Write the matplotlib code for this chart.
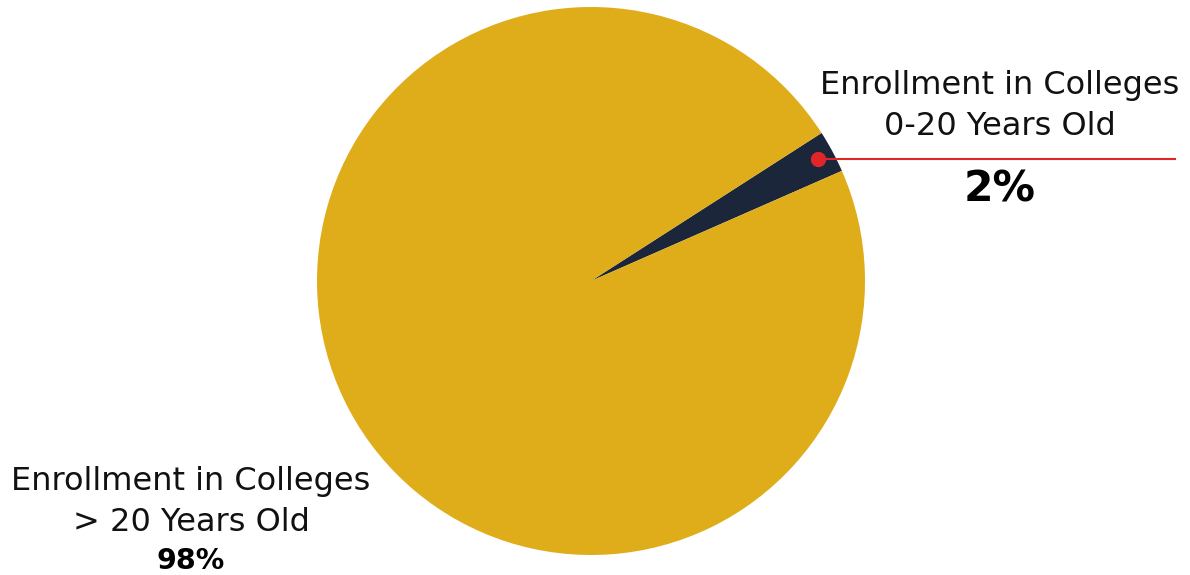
import numpy as np
import matplotlib.pyplot as plt

# share of college enrollment by age group
groups = ["Enrollment in Colleges\n0-20 Years Old", "Enrollment in Colleges\n> 20 Years Old"]
shares = [2.5, 97.5]
pct_labels = ["2%", "98%"]
colors = ["#1b263b", "#dfac1a"]

plt.rcParams['font.family'] = ['DejaVu Sans']

W, H = 1190, 575
fig = plt.figure(figsize=(W / 100, H / 100), dpi=100)
ax = fig.add_axes([0, 0, 1, 1])

cx, cy, r = 591, H - 281, 274
start = 23.7
wedges, _ = ax.pie(shares, colors=colors, startangle=start, counterclock=True,
                   center=(cx, cy), radius=r, wedgeprops=dict(linewidth=0))

# red marker on the small slice with a leader line to the right
mid = np.deg2rad(start + shares[0] * 3.6 / 2)
dx, dy = cx + 0.94 * r * np.cos(mid), cy + 0.94 * r * np.sin(mid)
ax.plot([dx, 1175], [dy, dy], color="#e0262b", lw=1.5, zorder=3)
ax.plot(dx, dy, "o", color="#e0262b", ms=10, zorder=4)

# small slice label (top right)
ax.text(1000, H - 106, groups[0], ha="center", va="center", fontsize=23,
        linespacing=1.4, color="#111111")
ax.text(1000, H - 190, pct_labels[0], ha="center", va="center", fontsize=30.5,
        fontweight="bold", color="#000000")

# big slice label (bottom left)
ax.text(191, H - 502, groups[1], ha="center", va="center", fontsize=23,
        linespacing=1.4, color="#111111")
ax.text(191, H - 561, pct_labels[1], ha="center", va="center", fontsize=20.5,
        fontweight="bold", color="#000000")

ax.set_xlim(0, W)
ax.set_ylim(0, H)
ax.set_aspect("equal")
ax.axis("off")

fig.savefig("out.png", dpi=100)
